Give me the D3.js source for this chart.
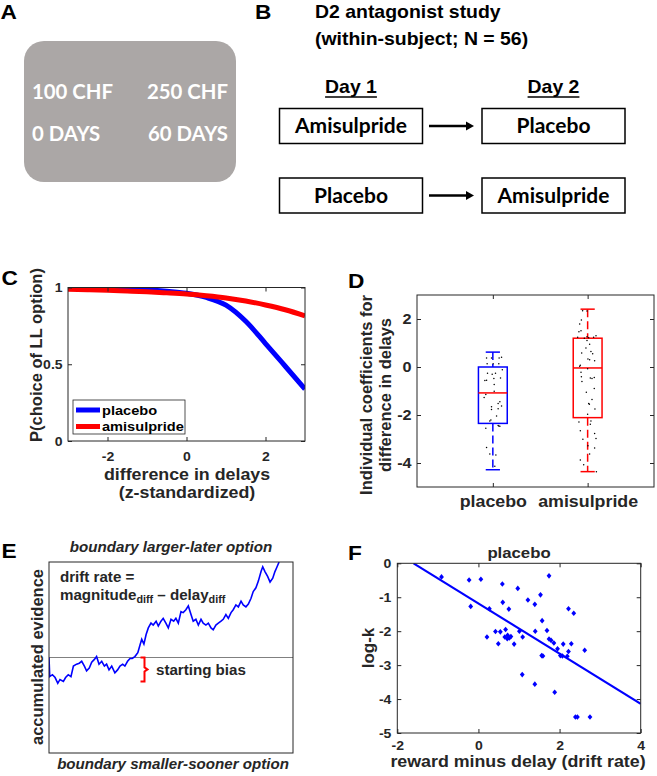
<!DOCTYPE html>
<html><head><meta charset="utf-8">
<script src="https://cdn.jsdelivr.net/npm/d3@7"></script>
<style>body{margin:0;background:#fff}svg{display:block}</style>
</head><body>
<svg id="fig" width="657" height="776"></svg>
<script>
// ---------------- DATA ----------------
const panelLabels = ["A", "B", "C", "D", "E", "F"];
const stimulusAmounts = ["100 CHF", "250 CHF"];
const stimulusDelays = ["0 DAYS", "60 DAYS"];
const designTitle = ["D2 antagonist study", "(within-subject; N = 56)"];
const designDays = ["Day 1", "Day 2"];
const designOrders = [["Amisulpride", "Placebo"], ["Placebo", "Amisulpride"]];

// Panel C: psychometric curves
const curveSeries = ["placebo", "amisulpride"];
const curveX = [-3, -2.5, -2, -1.5, -1, -0.5, 0, 0.5, 1, 1.5, 2, 2.5, 3];
const curvePlacebo = [0.998, 0.997, 0.994, 0.990, 0.985, 0.976, 0.962, 0.935, 0.885, 0.780, 0.635, 0.487, 0.338];
const curveAmisulpride = [0.988, 0.985, 0.982, 0.977, 0.972, 0.965, 0.957, 0.946, 0.932, 0.912, 0.886, 0.855, 0.815];
const curveXTicks = [-2, 0, 2];
const curveYTicks = [0, 0.5, 1];

// Panel D: boxplots of individual coefficients
const boxGroups = ["placebo", "amisulpride"];
const boxLow = [-4.28, -4.36];
const boxQ1 = [-2.35, -2.11];
const boxMedian = [-1.08, -0.04];
const boxQ3 = [0.0, 1.2];
const boxHigh = [0.62, 2.41];
const boxYTicks = [-4, -2, 0, 2];
// [jitter (x units), coefficient]
const placeboDots = [[-0.014,0.37],[0.066,0.37],[0.092,0.41],[-0.066,0.37],[-0.06,0.14],[0.003,0.14],[0.063,0.14],
  [0.10,-0.11],[-0.056,-0.26],[-0.007,-0.30],[0.028,-0.26],[-0.084,-0.56],[-0.066,-0.55],[0.011,-0.48],[0.081,-0.46],
  [0.014,-0.73],[0.014,-1.01],[-0.074,-1.15],[-0.092,-1.27],[0.074,-1.45],[0.056,-1.52],[0.092,-1.63],[-0.014,-1.66],
  [-0.014,-1.77],[0.056,-1.74],[0.039,-2.04],[-0.021,-2.21],[-0.032,-2.25],[0.056,-2.44],[0.074,-2.47],[0.063,-2.46],
  [-0.074,-2.55],[-0.066,-3.35],[-0.032,-3.63],[0.032,-3.67],[0.021,-4.14]];
const amisulprideDots = [[-0.053,2.34],[-0.007,2.33],[-0.066,1.96],[-0.084,1.79],[-0.092,1.47],[-0.07,1.51],[-0.105,1.24],
  [-0.007,1.26],[0.011,1.22],[-0.035,1.20],[0.088,1.30],[0.063,1.24],[-0.007,1.10],[-0.018,0.79],[0.021,0.95],[0.035,0.65],
  [0.053,0.55],[-0.063,0.58],[0.003,0.33],[0.021,0.30],[0.074,0.26],[-0.084,0.03],[-0.077,0.07],[0.0,-0.07],[-0.07,-0.22],
  [-0.066,-0.41],[0.028,-0.46],[0.046,-0.48],[0.07,-0.44],[-0.06,-0.60],[-0.014,-1.05],[0.07,-0.90],[0.046,-1.35],
  [0.011,-1.52],[0.018,-1.55],[0.077,-1.75],[0.0,-1.97],[-0.092,-2.29],[0.035,-2.25],[0.028,-2.39],[-0.077,-2.66],
  [0.074,-2.77],[-0.05,-3.01],[0.088,-2.98],[0.003,-3.28],[0.074,-3.38],[0.021,-3.63],[-0.077,-3.88],[-0.042,-4.07],[0.092,-4.36]];

// Panel E: example accumulation trace [time, evidence]
const walkTrace = [[0,0],[0.3,-0.20],[1.4,-0.18],[2.5,-0.21],[3.6,-0.27],[4.5,-0.23],[5.9,-0.25],[6.8,-0.21],[7.9,-0.18],
  [9.0,-0.20],[10.0,-0.09],[11.3,-0.07],[12.4,-0.06],[13.4,-0.04],[14.5,-0.09],[15.4,-0.14],[16.5,-0.11],[17.5,-0.05],
  [18.6,-0.02],[19.5,0.01],[20.5,-0.07],[21.6,-0.04],[22.7,-0.09],[23.6,-0.07],[24.6,-0.13],[25.7,-0.09],[27.0,-0.16],
  [28.1,-0.13],[29.1,-0.09],[30.2,-0.07],[31.1,-0.09],[32.2,-0.04],[33.2,-0.01],[34.1,-0.01],[35.2,0.01],[36.4,0.05],
  [37.3,0.13],[38.0,0.19],[38.9,0.14],[39.8,0.24],[40.7,0.31],[41.8,0.36],[42.7,0.34],[43.9,0.38],[44.8,0.33],[45.9,0.38],
  [46.8,0.41],[47.9,0.36],[48.9,0.31],[50.0,0.40],[51.1,0.38],[52.0,0.41],[53.0,0.36],[54.1,0.48],[55.0,0.47],[56.1,0.50],
  [57.1,0.54],[58.2,0.45],[59.1,0.38],[60.2,0.40],[61.2,0.34],[62.3,0.40],[63.2,0.36],[64.3,0.34],[65.3,0.36],[66.4,0.31],
  [67.3,0.29],[68.4,0.34],[69.4,0.36],[70.5,0.38],[71.4,0.40],[72.5,0.45],[73.5,0.41],[74.6,0.47],[75.5,0.50],[76.6,0.55],
  [77.6,0.53],[78.7,0.59],[79.6,0.55],[80.7,0.53],[81.7,0.56],[82.8,0.62],[83.7,0.69],[84.8,0.73],[85.8,0.80],[86.9,0.90],
  [87.6,0.95],[88.5,0.90],[89.6,0.85],[90.6,0.79],[91.7,0.83],[92.6,0.90],[93.3,0.94],[94.3,1.0]];
const startingBias = -0.25;
const biasTime = 37.5;

// Panel F: drift rate vs log-k (placebo)
const driftLogK = [[-0.91,-0.40],[-0.23,-0.49],[0.06,-0.47],[-0.19,-1.27],[0.27,-1.34],[0.59,-0.61],[0.60,-1.15],[0.75,-1.35],
  [0.97,-0.74],[1.22,-1.08],[1.39,-1.21],[1.53,-0.93],[1.74,-0.37],[1.57,-1.69],[2.22,-1.34],[2.35,-1.47],[0.21,-2.17],
  [0.42,-2.01],[0.54,-2.02],[0.49,-2.37],[0.67,-1.95],[0.65,-2.17],[0.72,-2.12],[0.76,-2.20],[0.80,-2.16],[0.71,-2.22],
  [0.88,-2.38],[1.01,-2.00],[1.09,-2.17],[1.40,-2.00],[1.69,-1.98],[1.74,-2.23],[1.79,-2.27],[1.86,-2.35],[1.95,-2.52],
  [2.09,-2.38],[2.29,-2.37],[2.62,-2.56],[1.56,-2.72],[1.59,-2.73],[2.02,-2.72],[2.07,-2.73],[2.19,-2.74],[2.22,-2.60],
  [1.08,-3.28],[1.39,-3.56],[1.88,-3.80],[2.39,-4.53],[2.44,-4.53],[2.75,-4.53]];
const fitX = [-1.6, 4];
const fitY = [0, -4.14];
const driftXTicks = [-2, 0, 2, 4];
const logKTicks = [0, -1, -2, -3, -4, -5];

// ---------------- DRAWING ----------------
const ARIAL = "'Liberation Sans', Arial, sans-serif";
const CALIBRI = "Lato, 'Open Sans', sans-serif";
const INK = "#262626";
const BLUE = "#0000ff", RED = "#ff0000";
const SX = 1.08;
const svg = d3.select("#fig");
svg.append("rect").attr("width", 657).attr("height", 776).attr("fill", "#fff");

function txt(g, x, y, s, o = {}) {
  return g.append("text")
    .attr("transform", `translate(${x},${y}) scale(${o.sx ?? SX},1)`)
    .attr("text-anchor", o.anchor || "start")
    .attr("font-family", o.family || ARIAL)
    .attr("font-size", o.size || 14)
    .attr("font-weight", o.weight || "bold")
    .attr("font-style", o.style || "normal")
    .attr("fill", o.fill || INK)
    .text(s);
}
function vtxt(g, x, y, s, size) {
  return g.append("text").attr("transform", `translate(${x},${y}) rotate(-90)`)
    .attr("text-anchor", "middle").attr("font-family", ARIAL).attr("font-size", size)
    .attr("font-weight", "bold").attr("fill", INK).text(s);
}
function matAxes(g, x, y, xt, yt, o) {
  const [x0, x1] = x.range(), [y0, y1] = y.range();
  const fmt = d => String(d);
  const tl = o.tickLen || 4;
  const style = (sel, showText, fs) => {
    sel.attr("font-family", ARIAL).attr("font-weight", "bold").attr("font-size", fs).attr("fill", INK);
    sel.select(".domain").remove();
    sel.selectAll(".tick line").attr("stroke", INK).attr("stroke-width", 1);
    sel.selectAll(".tick text").attr("fill", INK);
    if (!showText) sel.selectAll(".tick text").remove();
  };
  if (xt) {
    g.append("g").attr("transform", `translate(0,${y0})`)
      .call(d3.axisBottom(x).tickValues(xt).tickFormat(o.xFormat || fmt).tickSizeInner(-tl).tickSizeOuter(0).tickPadding(o.xpad))
      .call(s => style(s, true, o.xfs));
    g.append("g").attr("transform", `translate(0,${y1})`)
      .call(d3.axisTop(x).tickValues(xt).tickSizeInner(-tl).tickSizeOuter(0))
      .call(s => style(s, false, o.xfs));
  }
  g.append("g").attr("transform", `translate(${x0},0)`)
    .call(d3.axisLeft(y).tickValues(yt).tickFormat(fmt).tickSizeInner(-tl).tickSizeOuter(0).tickPadding(o.ypad))
    .call(s => style(s, true, o.yfs));
  g.append("g").attr("transform", `translate(${x1},0)`)
    .call(d3.axisRight(y).tickValues(yt).tickSizeInner(-tl).tickSizeOuter(0))
    .call(s => style(s, false, o.yfs));
  g.selectAll(".tick text").attr("transform", `scale(${SX},1)`);
  g.append("rect").attr("x", x0).attr("y", y1).attr("width", x1 - x0).attr("height", y0 - y1)
    .attr("fill", "none").attr("stroke", INK).attr("stroke-width", 1);
}
function clip(id, x, y) {
  const [x0, x1] = x.range(), [y0, y1] = y.range();
  svg.append("clipPath").attr("id", id).append("rect")
    .attr("x", x0).attr("y", y1).attr("width", x1 - x0).attr("height", y0 - y1);
  return `url(#${id})`;
}

// panel letters
const letterPos = [[0.5, 19], [255, 19], [1.5, 285], [348, 288], [1.5, 558], [348, 560]];
panelLabels.forEach((l, i) => txt(svg, letterPos[i][0], letterPos[i][1], l, { size: 21, fill: "#000" }));

// ---- Panel A ----
const gA = svg.append("g");
gA.append("rect").attr("x", 24).attr("y", 41).attr("width", 212).attr("height", 141).attr("rx", 20)
  .attr("fill", "#aba7a6");
const aOpt = { family: CALIBRI, size: 21, fill: "#fff", sx: 0.97 };
txt(gA, 32, 99, stimulusAmounts[0], aOpt);
txt(gA, 228, 99, stimulusAmounts[1], { ...aOpt, anchor: "end" });
txt(gA, 32, 141, stimulusDelays[0], aOpt);
txt(gA, 228, 141, stimulusDelays[1], { ...aOpt, anchor: "end" });

// ---- Panel B ----
const gB = svg.append("g");
txt(gB, 315, 18, designTitle[0], { size: 18, fill: "#000" });
txt(gB, 315, 45, designTitle[1], { size: 18, fill: "#000" });
const colX = [351, 553.5];
designDays.forEach((d, i) => {
  const t = txt(gB, colX[i], 92.5, d, { size: 18, fill: "#000", anchor: "middle" });
  const w = t.node().getComputedTextLength() * SX;
  gB.append("line").attr("x1", colX[i] - w / 2).attr("x2", colX[i] + w / 2)
    .attr("y1", 97).attr("y2", 97).attr("stroke", "#000").attr("stroke-width", 1.5);
});
const rowY = [108.5, 178];
const boxW = 143, boxH = 35;
designOrders.forEach((order, r) => {
  order.forEach((drug, c) => {
    gB.append("rect").attr("x", colX[c] - boxW / 2).attr("y", rowY[r]).attr("width", boxW).attr("height", boxH)
      .attr("fill", "#fff").attr("stroke", "#000").attr("stroke-width", 1.5);
    txt(gB, colX[c], rowY[r] + 24.5, drug, { family: CALIBRI, size: 20, fill: "#000", anchor: "middle", sx: 1.05 });
  });
  const ay = rowY[r] + boxH / 2;
  gB.append("line").attr("x1", 429).attr("x2", 467).attr("y1", ay).attr("y2", ay)
    .attr("stroke", "#000").attr("stroke-width", 2.5);
  gB.append("path").attr("d", `M466,${ay - 4.5} L474,${ay} L466,${ay + 4.5} Z`).attr("fill", "#000");
});

// ---- Panel C ----
const gC = svg.append("g");
const xC = d3.scaleLinear([-3, 3], [68, 305]);
const yC = d3.scaleLinear([0, 1], [441, 287.5]);
const cClip = clip("clipC", xC, yC);
const lineC = d3.line().x(d => xC(d[0])).y(d => yC(d[1])).curve(d3.curveMonotoneX);
const seriesC = [curvePlacebo, curveAmisulpride];
const colsC = [BLUE, RED];
seriesC.forEach((vals, i) => {
  gC.append("path").attr("d", lineC(curveX.map((x, j) => [x, vals[j]])))
    .attr("fill", "none").attr("stroke", colsC[i]).attr("stroke-width", 5).attr("clip-path", cClip);
});
matAxes(gC, xC, yC, curveXTicks, curveYTicks, { xpad: 11, ypad: 5, xfs: 13, yfs: 13 });
// legend
gC.append("rect").attr("x", 73).attr("y", 400).attr("width", 112).attr("height", 34)
  .attr("fill", "#fff").attr("stroke", INK).attr("stroke-width", 0.8);
curveSeries.forEach((s, i) => {
  const ly = 410 + i * 16.5;
  gC.append("line").attr("x1", 76).attr("x2", 100).attr("y1", ly).attr("y2", ly)
    .attr("stroke", colsC[i]).attr("stroke-width", 5);
  txt(gC, 102, ly + 4.5, s, { size: 13.5, fill: "#000" });
});
vtxt(gC, 42, 355, "P(choice of LL option)", 16.5);
txt(gC, 187, 480, "difference in delays", { size: 16.5, anchor: "middle" });
txt(gC, 187, 498, "(z-standardized)", { size: 16.5, anchor: "middle" });

// ---- Panel D ----
const gD = svg.append("g");
const xD = d3.scaleLinear([0.2, 2.7], [417, 654]);
const yD = d3.scaleLinear([-5, 3], [487, 295]);
const colsD = [BLUE, RED];
const dotsD = [placeboDots, amisulprideDots];
boxGroups.forEach((g, i) => {
  const c = i + 1, col = colsD[i];
  [[boxHigh[i], boxQ3[i]], [boxQ1[i], boxLow[i]]].forEach(([a, b]) => {
    gD.append("line").attr("x1", xD(c)).attr("x2", xD(c)).attr("y1", yD(a)).attr("y2", yD(b))
      .attr("stroke", col).attr("stroke-width", 1.5).attr("stroke-dasharray", "8,4");
  });
  [boxHigh[i], boxLow[i]].forEach(v => {
    gD.append("line").attr("x1", xD(c - 0.075)).attr("x2", xD(c + 0.075)).attr("y1", yD(v)).attr("y2", yD(v))
      .attr("stroke", col).attr("stroke-width", 1.5);
  });
  gD.append("rect").attr("x", xD(c - 0.152)).attr("y", yD(boxQ3[i]))
    .attr("width", xD(c + 0.152) - xD(c - 0.152)).attr("height", yD(boxQ1[i]) - yD(boxQ3[i]))
    .attr("fill", "none").attr("stroke", col).attr("stroke-width", 1.5);
  gD.append("line").attr("x1", xD(c - 0.152)).attr("x2", xD(c + 0.152))
    .attr("y1", yD(boxMedian[i])).attr("y2", yD(boxMedian[i])).attr("stroke", RED).attr("stroke-width", 1.5);
  gD.selectAll(null).data(dotsD[i]).enter().append("circle")
    .attr("cx", d => xD(c + d[0])).attr("cy", d => yD(d[1])).attr("r", 0.75).attr("fill", "#000");
});
matAxes(gD, xD, yD, [1, 2], boxYTicks, { xpad: 8.5, ypad: 5, xfs: 16.5, yfs: 15, xFormat: d => boxGroups[d - 1] });
vtxt(gD, 372, 395, "Individual coefficients for", 16.5);
vtxt(gD, 391, 395, "difference in delays", 16.5);

// ---- Panel E ----
const gE = svg.append("g");
const xE = d3.scaleLinear([0, 100], [49, 293]);
const yE = d3.scaleLinear([-1, 1], [753, 562]);
const eClip = clip("clipE", xE, yE);
gE.append("line").attr("x1", xE(0)).attr("x2", xE(100)).attr("y1", yE(0)).attr("y2", yE(0))
  .attr("stroke", "#808080").attr("stroke-width", 1);
gE.append("path").attr("d", d3.line().x(d => xE(d[0])).y(d => yE(d[1]))(walkTrace))
  .attr("fill", "none").attr("stroke", BLUE).attr("stroke-width", 1.6).attr("clip-path", eClip);
gE.append("rect").attr("x", 49).attr("y", 562).attr("width", 244).attr("height", 191)
  .attr("fill", "none").attr("stroke", INK).attr("stroke-width", 1);
const bx = xE(biasTime), b0 = yE(0), b1 = yE(startingBias), bm = (b0 + b1) / 2;
gE.append("path")
  .attr("d", `M${bx},${b0} H${bx + 4} V${bm - 2} L${bx + 7},${bm} L${bx + 4},${bm + 2} V${b1} H${bx}`)
  .attr("fill", "none").attr("stroke", RED).attr("stroke-width", 2);
txt(gE, 156, 674.5, "starting bias", { size: 14 });
txt(gE, 60, 582, "drift rate =", { size: 14 });
const mt = gE.append("text").attr("transform", `translate(60,600) scale(${SX},1)`)
  .attr("font-family", ARIAL).attr("font-weight", "bold").attr("font-size", 14).attr("fill", INK);
mt.append("tspan").text("magnitude");
mt.append("tspan").attr("font-size", 10).attr("dy", 3).text("diff");
mt.append("tspan").attr("dy", -3).text(" \u2013 delay");
mt.append("tspan").attr("font-size", 10).attr("dy", 3).text("diff");
txt(gE, 171, 552, "boundary larger-later option", { size: 14, style: "italic", anchor: "middle" });
txt(gE, 173, 769, "boundary smaller-sooner option", { size: 14, style: "italic", anchor: "middle" });
vtxt(gE, 43, 657, "accumulated evidence", 16.5);

// ---- Panel F ----
const gF = svg.append("g");
const xF = d3.scaleLinear([-2, 4], [397.3, 640.7]);
const yF = d3.scaleLinear([-5, 0], [733, 563.3]);
const fClip = clip("clipF", xF, yF);
gF.append("path").attr("d", d3.line().x(d => xF(d[0])).y(d => yF(d[1]))(fitX.map((x, i) => [x, fitY[i]])))
  .attr("stroke", BLUE).attr("stroke-width", 2).attr("fill", "none").attr("clip-path", fClip);
gF.selectAll(null).data(driftLogK).enter().append("path")
  .attr("transform", d => `translate(${xF(d[0])},${yF(d[1])})`)
  .attr("d", "M0,-2.8 L2.4,0 L0,2.8 L-2.4,0 Z").attr("fill", BLUE);
matAxes(gF, xF, yF, driftXTicks, logKTicks, { xpad: 8, ypad: 5.5, xfs: 13, yfs: 13 });
txt(gF, 519, 558, "placebo", { size: 15.5, anchor: "middle" });
txt(gF, 518, 767, "reward minus delay (drift rate)", { size: 16.5, anchor: "middle" });
vtxt(gF, 374, 648, "log-k", 17);
</script>
</body></html>
